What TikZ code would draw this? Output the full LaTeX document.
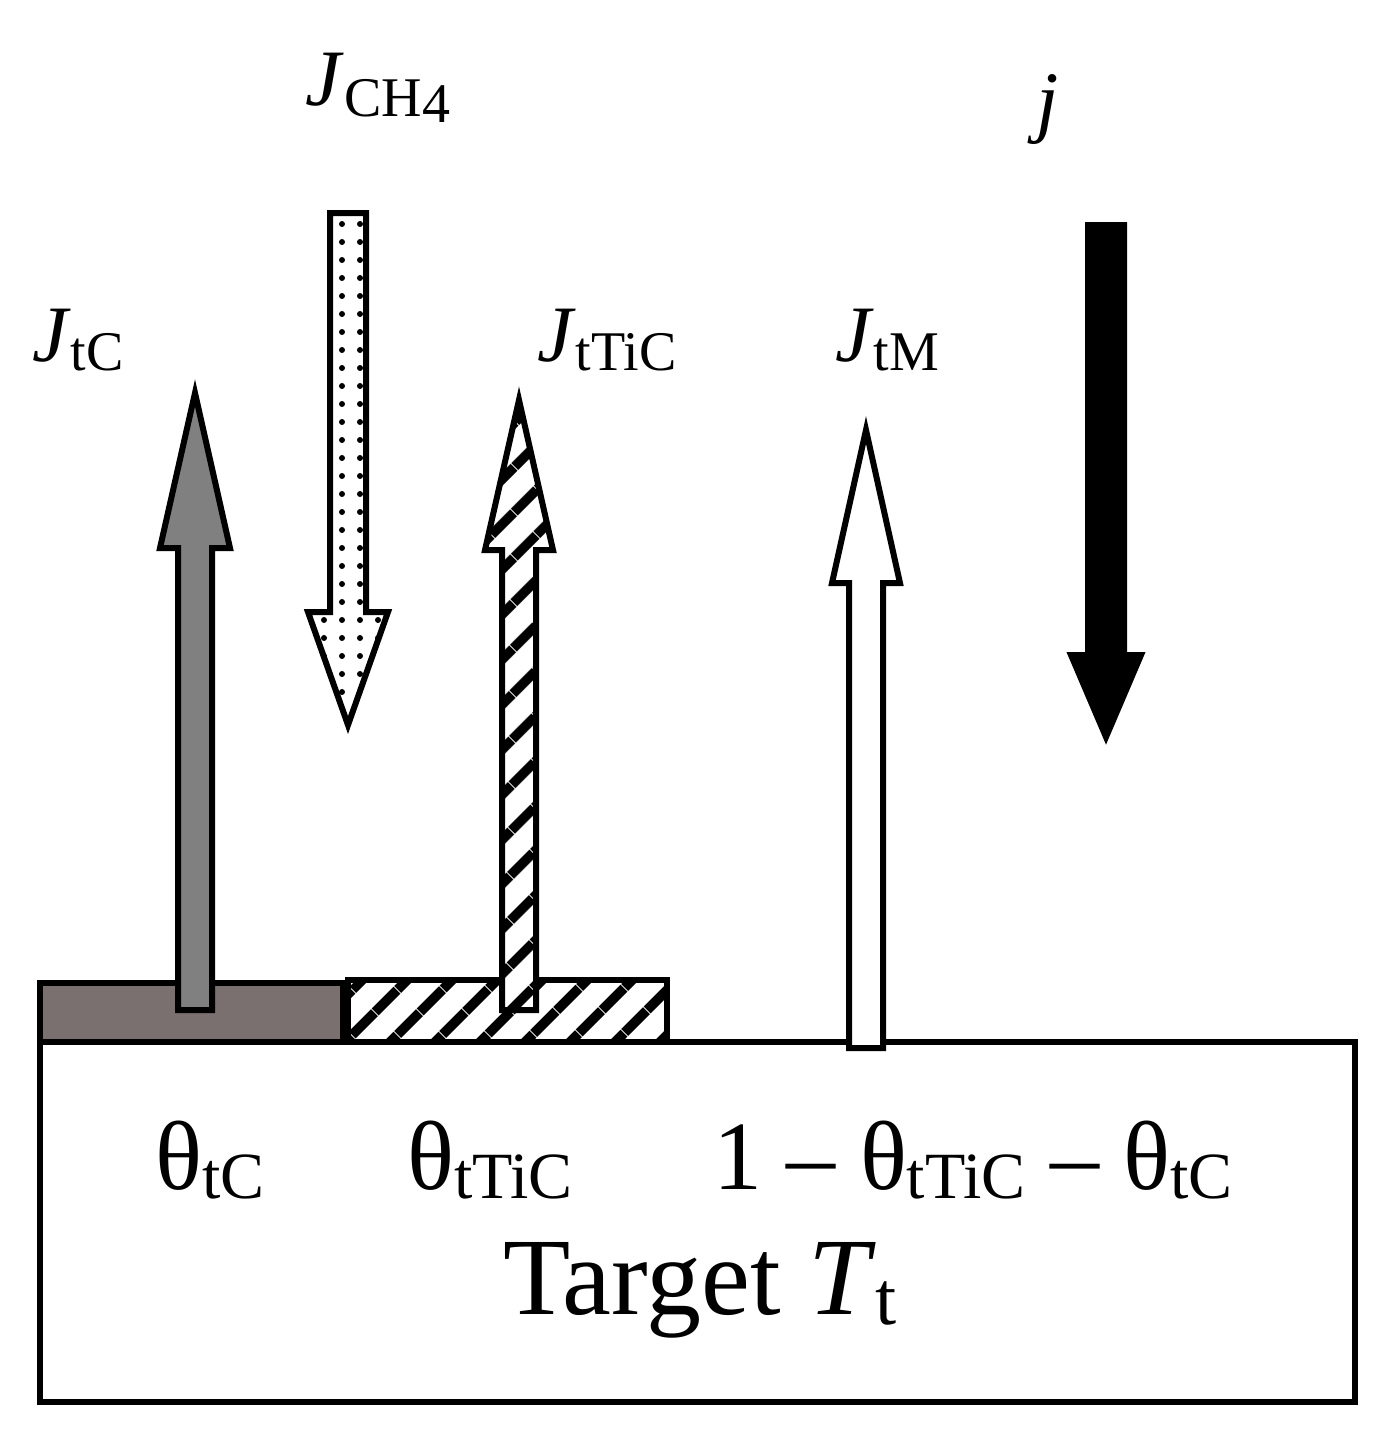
\documentclass[tikz,border=0pt]{standalone}
\usepackage{fontspec}
\setmainfont{Liberation Serif}
\usetikzlibrary{patterns.meta}
\newcommand\myarrow[8]{% x-center, shaft half width, head half width, start y, head base y, tip y, style
  \path[#7] (#1-#2,#4) -- (#1-#2,#5) -- (#1-#3,#5) -- (#1,#6) -- (#1+#3,#5) -- (#1+#2,#5) -- (#1+#2,#4) -- cycle;#8}
\begin{document}
\begin{tikzpicture}[x=1pt,y=-1pt,line join=miter,
  ol/.style={draw=black,line width=6pt},
  hatch/.style={pattern={Lines[angle=45,distance=32pt,line width=10pt]}},
  dots/.style={pattern={Dots[angle=0,distance=18pt,radius=3pt]}},
  lab/.style={inner sep=0pt,font=\fontsize{80}{88}\selectfont},
  th/.style={inner sep=0pt,font=\fontsize{98}{105}\selectfont}]
\useasboundingbox (0,0) rectangle (1386,1430);
% target
\draw[ol,fill=white] (40,1042) rectangle (1355,1402);
\draw[ol,fill={rgb,255:red,122;green,112;blue,112}] (40,983) rectangle (343,1042);
\fill[white] (348,980) rectangle (667,1042);
\fill[hatch] (348,980) rectangle (667,1042);
\draw[ol] (348,980) rectangle (667,1042);
% arrows
\myarrow{195}{17}{35}{1010}{548}{393}{ol,fill={rgb,255:red,128;green,128;blue,128}}{}
\myarrow{348}{18}{40}{213}{612}{725}{fill=white}{}
\myarrow{348}{18}{40}{213}{612}{725}{dots}{}
\myarrow{348}{18}{40}{213}{612}{725}{ol}{}
\myarrow{519}{17}{34}{1010}{550}{400}{fill=white}{}
\myarrow{519}{17}{34}{1010}{550}{400}{hatch}{}
\myarrow{519}{17}{34}{1010}{550}{400}{ol}{}
\myarrow{866}{17}{34}{1048}{583}{430}{ol,fill=white}{}
\myarrow{1106}{18}{35}{225}{655}{737}{ol,fill=black}{}
% labels
\node[lab] (jch4) at (378,88) {\textit{J}\raisebox{-0.3ex}{\fontsize{56}{60}\selectfont CH\raisebox{-0.25ex}{4}}};
\node[lab] (jj) at (1048,110) {\textit{j}};
\node[lab] (jtc) at (78,340) {\textit{J}\raisebox{-0.25ex}{\fontsize{56}{60}\selectfont tC}};
\node[lab] (jttic) at (607,340) {\textit{J}\raisebox{-0.25ex}{\fontsize{56}{60}\selectfont tTiC}};
\node[lab] (jtm) at (887,340) {\textit{J}\raisebox{-0.25ex}{\fontsize{56}{60}\selectfont tM}};
\node[th] (t1) at (210,1160) {θ\raisebox{-0.2ex}{\fontsize{66}{70}\selectfont tC}};
\node[th] (t2) at (490,1160) {θ\raisebox{-0.2ex}{\fontsize{66}{70}\selectfont tTiC}};
\node[th] (t3) at (973,1160) {1 – θ\raisebox{-0.2ex}{\fontsize{66}{70}\selectfont tTiC} – θ\raisebox{-0.2ex}{\fontsize{66}{70}\selectfont tC}};
\node[inner sep=0pt,font=\fontsize{110}{120}\selectfont] (tg) at (700,1290) {Target \textit{T}\raisebox{-0.2ex}{\fontsize{76}{80}\selectfont t}};
\end{tikzpicture}
\end{document}
